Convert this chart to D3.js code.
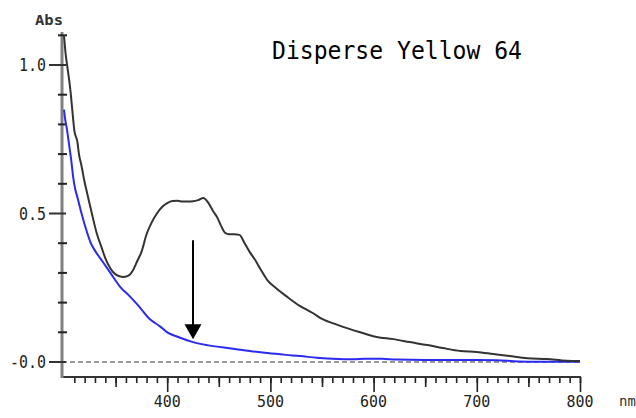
<!DOCTYPE html>
<html>
<head>
<meta charset="utf-8">
<script src="https://cdn.jsdelivr.net/npm/d3@7"></script>
<style>
  body { margin: 0; background: #fff; }
  svg { display: block; }
</style>
</head>
<body>
<div class="svg-container"></div>
<script>
// chart data
const title = "Disperse Yellow 64";

// dye spectrum (black)
const dyeWavelengths = [300, 301.5, 303, 305, 306.5, 308, 310, 313, 314.5, 317, 320, 323, 327, 332, 336, 340, 345, 350, 357, 362, 367, 371, 375, 380, 385, 390, 395, 400, 405, 410, 415, 420, 425, 430, 435, 440, 445, 448, 452, 456, 460, 465, 470, 475, 480, 485, 490, 497, 505, 516, 528, 541, 550, 565, 587, 603, 619, 635, 652, 667, 684, 700, 716, 732, 749, 768, 787, 800];
const dyeAbs = [1.10, 1.04, 1.0, 0.95, 0.905, 0.85, 0.78, 0.74, 0.70, 0.66, 0.605, 0.56, 0.50, 0.43, 0.39, 0.35, 0.315, 0.295, 0.286, 0.29, 0.31, 0.34, 0.37, 0.43, 0.47, 0.50, 0.522, 0.535, 0.542, 0.543, 0.54, 0.54, 0.541, 0.545, 0.552, 0.535, 0.505, 0.49, 0.46, 0.435, 0.43, 0.43, 0.428, 0.40, 0.37, 0.345, 0.315, 0.276, 0.25, 0.22, 0.19, 0.165, 0.145, 0.125, 0.10, 0.084, 0.077, 0.067, 0.057, 0.047, 0.037, 0.034, 0.027, 0.02, 0.013, 0.01, 0.004, 0.003];

// after treatment (blue)
const treatedWavelengths = [300, 301, 303, 305, 307, 309, 311, 313, 317, 322, 326, 330, 337, 345, 354, 364, 372, 383, 393, 400, 410, 425, 440, 464, 480, 497, 515, 529, 545, 560, 580, 592, 608, 622, 650, 680, 700, 720, 740, 760, 780, 800];
const treatedAbs = [0.85, 0.82, 0.78, 0.73, 0.68, 0.62, 0.58, 0.555, 0.50, 0.44, 0.40, 0.375, 0.34, 0.30, 0.255, 0.22, 0.19, 0.145, 0.12, 0.10, 0.085, 0.067, 0.056, 0.045, 0.037, 0.03, 0.024, 0.02, 0.014, 0.011, 0.009, 0.011, 0.011, 0.008, 0.007, 0.007, 0.007, 0.006, 0.002, 0.001, 0.001, 0.001];

// axis ticks
const xMajorTicks = [400, 500, 600, 700, 800];
const xMidTicks = [350, 450, 550, 650, 750];
const xMinorTicks = d3.range(310, 801, 10);
const yMajorTicks = [0, 0.5, 1.0];
const yMajorLabels = ["-0.0", "0.5", "1.0"];
const yMinorTicks = [0.1, 0.2, 0.3, 0.4, 0.6, 0.7, 0.8, 0.9, 1.1];

// arrow annotation (wavelength, from abs, to abs)
const arrow = { wl: 425, from: 0.41, to: 0.077 };

const width = 636;
const height = 418;
const mono = "'DejaVu Sans Mono', 'Liberation Mono', monospace";

const svg = d3
  .select(".svg-container")
  .append("svg")
  .attr("width", width)
  .attr("height", height);

const x = d3.scaleLinear().domain([300, 800]).range([64, 580]);
const y = d3.scaleLinear().domain([0, 1]).range([362, 65]);

const axisX = 62; // y axis line position
const axisY = 377; // x axis line position

// baseline at zero (dashed)
svg
  .append("line")
  .attr("x1", axisX)
  .attr("x2", x(800))
  .attr("y1", y(0))
  .attr("y2", y(0))
  .attr("stroke", "#999")
  .attr("stroke-width", 2)
  .attr("stroke-dasharray", "5,3");

// x axis: three tick layers
function xTicks(values, size) {
  svg
    .append("g")
    .attr("transform", `translate(0,${axisY})`)
    .call(d3.axisBottom(x).tickValues(values).tickSize(size).tickFormat(""))
    .call((g) => g.select(".domain").remove())
    .call((g) => g.selectAll("line").attr("stroke", "#222").attr("stroke-width", 1.6));
}
xTicks(xMinorTicks, 6);
xTicks(xMidTicks, 10);
xTicks(xMajorTicks, 15);

svg
  .append("g")
  .selectAll("text")
  .data(xMajorTicks)
  .enter()
  .append("text")
  .attr("x", (d) => x(d))
  .attr("y", 407)
  .attr("text-anchor", "middle")
  .attr("font-family", mono)
  .attr("font-size", "16px")
  .attr("textLength", 27)
  .attr("lengthAdjust", "spacingAndGlyphs")
  .attr("fill", "#222")
  .text((d) => d);

svg
  .append("line")
  .attr("x1", axisX)
  .attr("x2", x(800) + 1)
  .attr("y1", axisY)
  .attr("y2", axisY)
  .attr("stroke", "#333")
  .attr("stroke-width", 2);

// y axis
svg
  .append("line")
  .attr("x1", axisX)
  .attr("x2", axisX)
  .attr("y1", 32)
  .attr("y2", axisY + 1)
  .attr("stroke", "#808080")
  .attr("stroke-width", 3);

svg
  .append("g")
  .selectAll("line")
  .data(yMinorTicks)
  .enter()
  .append("line")
  .attr("x1", 58)
  .attr("x2", 67)
  .attr("y1", (d) => y(d))
  .attr("y2", (d) => y(d))
  .attr("stroke", "#222")
  .attr("stroke-width", 2);

svg
  .append("g")
  .selectAll("line")
  .data(yMajorTicks)
  .enter()
  .append("line")
  .attr("x1", 49)
  .attr("x2", 66)
  .attr("y1", (d) => y(d))
  .attr("y2", (d) => y(d))
  .attr("stroke", "#333")
  .attr("stroke-width", 2);

svg
  .append("g")
  .selectAll("text")
  .data(yMajorTicks)
  .enter()
  .append("text")
  .attr("x", 46)
  .attr("y", (d) => y(d) + 6)
  .attr("text-anchor", "end")
  .attr("font-family", mono)
  .attr("font-size", "17px")
  .attr("textLength", (d, i) => yMajorLabels[i].length * 9)
  .attr("lengthAdjust", "spacingAndGlyphs")
  .attr("fill", "#222")
  .text((d, i) => yMajorLabels[i]);

// unit labels
svg
  .append("text")
  .attr("x", 35)
  .attr("y", 25)
  .attr("font-family", mono)
  .attr("font-size", "14px")
  .attr("font-weight", "bold")
  .attr("textLength", 28)
  .attr("lengthAdjust", "spacingAndGlyphs")
  .attr("fill", "#333")
  .text("Abs");

svg
  .append("text")
  .attr("x", 619)
  .attr("y", 406)
  .attr("font-family", mono)
  .attr("font-size", "14px")
  .attr("fill", "#333")
  .text("nm");

// spectra
const line = d3
  .line()
  .curve(d3.curveMonotoneX)
  .x((d) => x(d[0]))
  .y((d) => y(d[1]));

svg
  .append("path")
  .datum(d3.zip(treatedWavelengths, treatedAbs))
  .attr("fill", "none")
  .attr("stroke", "#2a2af2")
  .attr("stroke-width", 2)
  .attr("d", line);

svg
  .append("path")
  .datum(d3.zip(dyeWavelengths, dyeAbs))
  .attr("fill", "none")
  .attr("stroke", "#333")
  .attr("stroke-width", 2)
  .attr("d", line);

// arrow
const ax = x(arrow.wl);
const tipY = y(arrow.to);
svg
  .append("line")
  .attr("x1", ax)
  .attr("x2", ax)
  .attr("y1", y(arrow.from))
  .attr("y2", tipY - 12)
  .attr("stroke", "#000")
  .attr("stroke-width", 2);

svg
  .append("path")
  .attr("d", `M${ax - 8.5},${tipY - 15}L${ax + 8.5},${tipY - 15}L${ax},${tipY}Z`)
  .attr("fill", "#000");

// title
svg
  .append("text")
  .attr("x", 272)
  .attr("y", 59)
  .attr("font-family", mono)
  .attr("font-size", "24px")
  .attr("textLength", 250)
  .attr("lengthAdjust", "spacingAndGlyphs")
  .attr("fill", "#000")
  .text(title);
</script>
</body>
</html>
